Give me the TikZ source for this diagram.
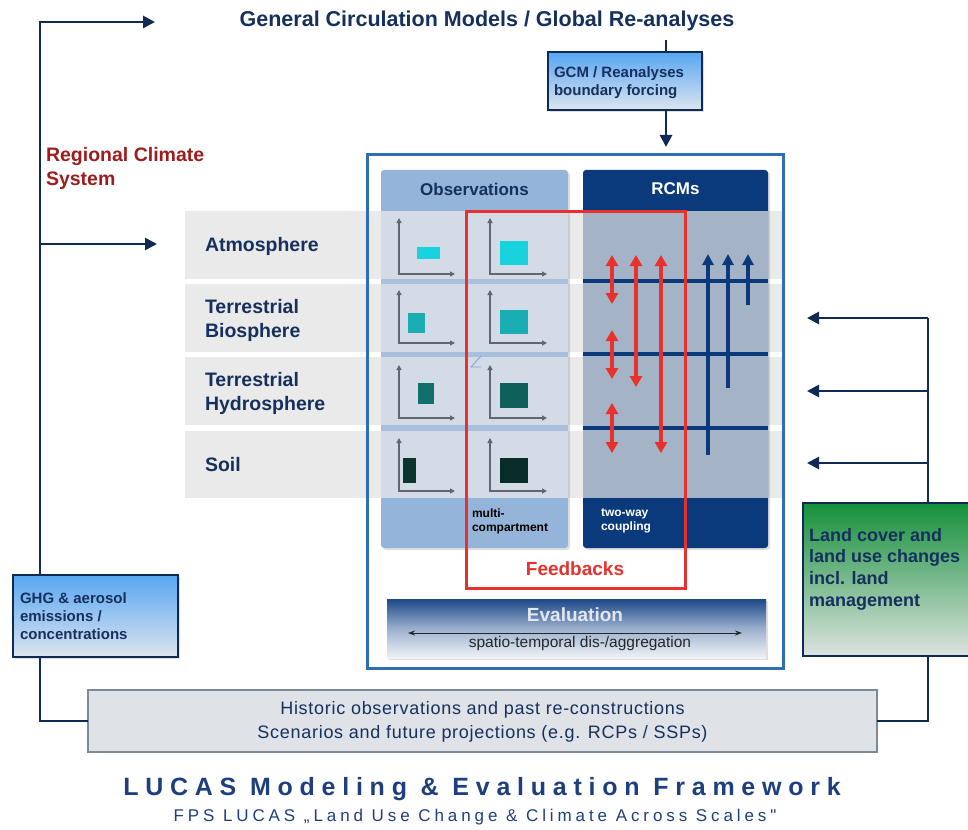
\documentclass[tikz,border=0pt]{standalone}
\usepackage{fontspec}
\setmainfont{Liberation Sans}
\newfontfamily\histfont[LetterSpace=4]{Liberation Sans}
\newfontfamily\lucasfont[LetterSpace=27]{Liberation Sans}
\newfontfamily\fpsfont[LetterSpace=23]{Liberation Sans}
\usetikzlibrary{arrows.meta,shadows}
\definecolor{navy}{HTML}{0F2A55}
\definecolor{titlenavy}{HTML}{16305E}
\definecolor{rcmnavy}{HTML}{0B3A7C}
\definecolor{obshead}{HTML}{95B4DA}
\definecolor{obsgap}{HTML}{A9C0DC}
\definecolor{obscell}{HTML}{D2DBE6}
\definecolor{rcmcell}{HTML}{A5B3C6}
\definecolor{band}{HTML}{EAEAEA}
\definecolor{frameblue}{HTML}{2F6DB5}
\definecolor{fbred}{HTML}{E8302C}
\definecolor{rcsred}{HTML}{9E1C1C}
\definecolor{axisgray}{HTML}{5F6870}
\definecolor{boxtop}{HTML}{58A6F2}
\definecolor{boxbot}{HTML}{DCE5EF}
\definecolor{greentop}{HTML}{14903A}
\definecolor{greenmid}{HTML}{6FB483}
\definecolor{greenbot}{HTML}{DEE3E1}
\definecolor{histfill}{HTML}{DFE2E6}
\definecolor{histdraw}{HTML}{7D8A99}
\definecolor{lucasblue}{HTML}{1D3F7F}
\definecolor{evaltop}{HTML}{1B4787}
\definecolor{evalmid}{HTML}{9BB0CE}
\definecolor{evalbot}{HTML}{F0F3F7}
\definecolor{evaltext}{HTML}{E3E7EE}
\definecolor{c1}{HTML}{16D3DE}
\definecolor{c2}{HTML}{1AAEB4}
\definecolor{c3}{HTML}{12706B}
\definecolor{c4}{HTML}{0A352F}
\begin{document}
\begin{tikzpicture}[x=1pt,y=-1pt,
  conn/.style={draw=navy,line width=2.7pt},
  tip/.style={-{Triangle[length=12pt,width=12pt]}},
  box/.style={anchor=north west,inner sep=0pt,outer sep=0pt},
  txt/.style={inner sep=0pt,outer sep=0pt},
  lbl/.style={txt,anchor=west,align=left,text=titlenavy,font=\bfseries\fontsize{19.5}{24}\selectfont},
  boxtxt/.style={txt,anchor=west,align=left,text=titlenavy,font=\bfseries\fontsize{15}{18}\selectfont},
  redarr/.style={draw=fbred,line width=3.5pt,{Triangle[length=11pt,width=12pt]}-{Triangle[length=11pt,width=12pt]}},
  uparr/.style={draw=rcmnavy,line width=3.5pt,-{Triangle[length=11pt,width=11pt]}},
  axis/.style={draw=axisgray,line width=1.2pt,{Triangle[length=5pt,width=5pt]}-{Triangle[length=5pt,width=5pt]}},
  shadowed/.style={drop shadow={opacity=0.25,shadow xshift=2pt,shadow yshift=-2pt}},
]
\useasboundingbox (0,0) rectangle (968,829);

% ---------- title ----------
\node[txt,text=titlenavy,font=\bfseries\fontsize{21.5}{24}\selectfont] (title) at (487,21) {General Circulation Models / Global Re-analyses};

% ---------- GCM box ----------
\node[box,minimum width=154pt,minimum height=58pt,draw=navy,line width=1.5pt,top color=boxtop,bottom color=boxbot,shadowed] (gcm) at (548,52) {};
\node[boxtxt] (gcmtxt) at (554,83) {GCM / Reanalyses\\boundary forcing};
\coordinate (gtop) at (666,40);
\coordinate (ftop) at (666,147);
\draw[conn] (gtop) -- (gcm.north -| gtop);
\draw[conn,tip] (gcm.south -| gtop) -- (ftop);

% ---------- main frame ----------
\node[box,minimum width=416pt,minimum height=513pt,fill=white] (frame) at (367,155) {};

% ---------- bands ----------
\node[box,minimum width=600pt,minimum height=68pt,fill=band] (b1) at (185,211) {};
\node[box,minimum width=600pt,minimum height=68pt,fill=band] (b2) at (185,284) {};
\node[box,minimum width=600pt,minimum height=68pt,fill=band] (b3) at (185,357) {};
\node[box,minimum width=600pt,minimum height=67pt,fill=band] (b4) at (185,431) {};
\node[lbl] (atm) at (205,246) {Atmosphere};
\node[lbl] (bio) at (205,320) {Terrestrial\\Biosphere};
\node[lbl] (hyd) at (205,393) {Terrestrial\\Hydrosphere};
\node[lbl] (soil) at (205,465) {Soil};

% ---------- observations panel ----------
\node[box,minimum width=187pt,minimum height=378pt,fill=obshead,rounded corners=3pt,shadowed] (obs) at (381,170) {};
\fill[obsgap] (381,211) rectangle (568,498);
\foreach \t/\b in {211/279,284/352,357/425,431/498}
  \fill[obscell] (381,\t) rectangle (568,\b);
\node[txt,text=titlenavy,font=\bfseries\fontsize{17}{20}\selectfont] (obst) at (474.5,189) {Observations};
\node[txt,anchor=north west,align=left,font=\bfseries\fontsize{12}{14}\selectfont] (multi) at (472,509) {multi-\\compartment};

% charts
\foreach \tp/\bs in {218/274,290/343,365/418,438/491}{
  \draw[axis] (399,\tp) -- (399,\bs) -- (455,\bs);
  \draw[axis] (490,\tp) -- (490,\bs) -- (547,\bs);
}
\fill[c1] (417,247) rectangle (440,259);
\fill[c1] (500,241) rectangle (528,265);
\fill[c2] (408,313) rectangle (425,333);
\fill[c2] (500,310) rectangle (528,334);
\fill[c3] (418,383) rectangle (434,404);
\fill[c3!85!black] (500,383) rectangle (528,408);
\fill[c4] (403,458) rectangle (416,483);
\fill[c4!85!black] (500,458) rectangle (528,483);
\draw[obsgap!80!blue,line width=0.8pt] (481,356) -- (471,367) -- (481,367);

% ---------- RCM panel ----------
\node[box,minimum width=185pt,minimum height=378pt,fill=rcmnavy,rounded corners=3pt,shadowed] (rcm) at (583,170) {};
\fill[rcmcell] (583,211) rectangle (768,498);
\foreach \y in {281,354,428}
  \draw[rcmnavy,line width=4pt] (583,\y) -- (768,\y);
\node[txt,text=white,font=\bfseries\fontsize{17}{20}\selectfont] (rcmt) at (675.5,189) {RCMs};
\node[txt,anchor=north west,align=left,text=white,font=\bfseries\fontsize{12}{14}\selectfont] (twoway) at (601,509) {two-way\\coupling};

% red coupling arrows
\draw[redarr] (612,255) -- (612,304);
\draw[redarr] (612,330) -- (612,379);
\draw[redarr] (612,403) -- (612,453);
\draw[redarr] (636,255) -- (636,387);
\draw[redarr] (661,255) -- (661,453);
% navy upward arrows
\draw[uparr] (708,455) -- (708,254);
\draw[uparr] (728,388) -- (728,254);
\draw[uparr] (748,305) -- (748,254);

% ---------- feedback frame ----------
\node[box,minimum width=219pt,minimum height=377pt,draw=fbred,line width=3pt] (fb) at (466,211) {};
\node[txt,text=fbred,font=\bfseries\fontsize{19}{22}\selectfont] (fbt) at (575,569) {Feedbacks};

% frame border
\draw[frameblue,line width=3pt] (frame.north west) rectangle (frame.south east);

% ---------- evaluation ----------
\node[box,minimum width=379pt,minimum height=59pt,top color=evaltop,bottom color=evalbot,middle color=evalmid,shadowed] (eval) at (387,599) {};
\node[txt,text=evaltext,font=\bfseries\fontsize{19}{22}\selectfont] (evalt) at (575,615) {Evaluation};
\coordinate (ea1) at (408,633);
\coordinate (ea2) at (742,633);
\draw[black!85,line width=1pt,{Stealth[length=7pt,width=5pt]}-{Stealth[length=7pt,width=5pt]}] (ea1) -- (ea2);
\node[txt,text=black!85,font=\fontsize{15.5}{18}\selectfont] (spt) at (580,643) {spatio-temporal dis-/aggregation};

% ---------- left side ----------
\node[txt,anchor=north west,align=left,text=rcsred,font=\bfseries\fontsize{19.5}{24}\selectfont] (rcs) at (46,147) {Regional Climate\\System};
\node[box,minimum width=165pt,minimum height=82pt,draw=navy,line width=1.5pt,top color=boxtop,bottom color=boxbot,shadowed] (ghg) at (13,575) {};
\node[boxtxt] (ghgt) at (20,616) {GHG \& aerosol\\emissions /\\concentrations};

% ---------- history box ----------
\node[box,minimum width=789pt,minimum height=62pt,fill=histfill,draw=histdraw,line width=1.5pt] (hist) at (88,690) {};
\node[txt,align=center,text=titlenavy,font=\histfont\fontsize{18}{24}\selectfont] (histt) at (482.5,722) {Historic observations and past re-constructions\\Scenarios and future projections (e.g. RCPs / SSPs)};

\coordinate (ltop) at (40,22);
\coordinate (gcmarrow) at (155,22);
\coordinate (latm) at (40,244);
\coordinate (atmarrow) at (157,244);
\draw[conn,tip] (ghg.north -| ltop) -- (ltop) -- (gcmarrow);
\draw[conn,tip] (latm) -- (atmarrow);
\draw[conn] (ghg.south -| ltop) |- (hist.west);

% ---------- right side ----------
\node[box,minimum width=175pt,minimum height=153pt,draw=navy,line width=1.5pt,top color=greentop,middle color=greenmid,bottom color=greenbot] (land) at (803,503) {};
\node[txt,anchor=west,align=left,text=titlenavy,font=\bfseries\fontsize{18}{21.7}\selectfont] (landt) at (809,569) {Land cover and\\land use changes\\incl. land\\management};
\coordinate (rtop) at (928,318);
\coordinate (r1) at (807,318);
\coordinate (rm2) at (928,391);
\coordinate (r2) at (807,391);
\coordinate (rm3) at (928,463);
\coordinate (r3) at (807,463);
\draw[conn] (land.north -| rtop) -- (rtop);
\draw[conn,tip] (rtop) -- (r1);
\draw[conn,tip] (rm2) -- (r2);
\draw[conn,tip] (rm3) -- (r3);
\draw[conn] (land.south -| rtop) |- (hist.east);

% ---------- footer ----------
\node[txt,text=lucasblue,font=\lucasfont\bfseries\fontsize{25}{28}\selectfont] (lucas) at (482,789) {LUCAS Modeling \& Evaluation Framework};
\node[txt,text=lucasblue,font=\fpsfont\fontsize{17}{20}\selectfont] (fps) at (475,817) {FPS LUCAS „Land Use Change \& Climate Across Scales"};
\end{tikzpicture}
\end{document}
